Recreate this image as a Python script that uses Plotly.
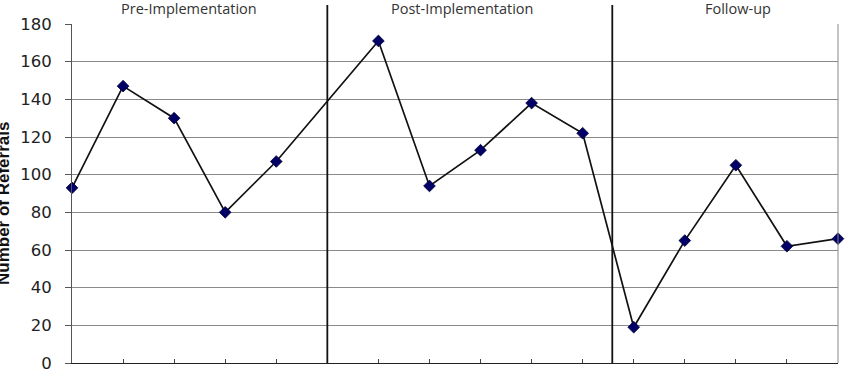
import plotly.graph_objects as go

# Data
x_pos = [0, 1, 2, 3, 4, 6, 7, 8, 9, 10, 11, 12, 13, 14, 15]
referrals = [93, 147, 130, 80, 107, 171, 94, 113, 138, 122, 19, 65, 105, 62, 66]
y_ticks = [0, 20, 40, 60, 80, 100, 120, 140, 160, 180]
phase_labels = ["Pre-Implementation", "Post-Implementation", "Follow-up"]
phase_label_x = [2.29, 7.64, 13.04]
phase_dividers = [5.0, 10.58]

fig = go.Figure()
fig.add_trace(go.Scatter(
    x=x_pos, y=referrals, mode="lines+markers",
    line=dict(color="#111111", width=1.7),
    marker=dict(symbol="diamond", size=9, color="#000066",
                line=dict(color="#000033", width=0.8)),
    showlegend=False, cliponaxis=False,
))

for xd in phase_dividers:
    fig.add_shape(type="line", xref="x", yref="paper", x0=xd, x1=xd,
                  y0=0, y1=1.056, line=dict(color="#111111", width=1.8),
                  layer="above")

for lbl, lx in zip(phase_labels, phase_label_x):
    fig.add_annotation(text=lbl, x=lx, xref="x", y=1.046, yref="paper",
                       showarrow=False, xanchor="center", yanchor="middle",
                       font=dict(family="Open Sans, sans-serif", size=14.5, color="#333333"))

fig.add_annotation(text="<b>Number of Referrals</b>", textangle=-90,
                   x=0, xref="paper", xshift=-69, xanchor="center",
                   y=0.469, yref="paper", yanchor="middle", showarrow=False,
                   font=dict(family="Liberation Sans, Arial, sans-serif", size=17, color="#111111"))

fig.update_xaxes(range=[0, 15], showgrid=False, zeroline=False, automargin=False,
                 showline=True, linecolor="#222222", linewidth=1.2,
                 tickmode="linear", tick0=0, dtick=1, ticks="inside",
                 ticklen=4, tickcolor="#444444", showticklabels=False,
                 mirror=False)
fig.update_yaxes(range=[0, 180], tickvals=y_ticks, showgrid=True, automargin=False,
                 gridcolor="#8a8a8a", gridwidth=1, zeroline=False,
                 showline=True, linecolor="#555555", linewidth=1,
                 ticks="outside", ticklen=6, tickcolor="#555555",
                 ticklabelstandoff=10,
                 tickfont=dict(family="DejaVu Sans, sans-serif", size=16.5, color="#222222"))

# right border
fig.add_shape(type="line", xref="paper", yref="paper", x0=1, x1=1, y0=0, y1=1,
              line=dict(color="#8a8a8a", width=1))

fig.update_layout(width=851, height=373,
                  margin=dict(l=72, r=13, t=24, b=10),
                  paper_bgcolor="white", plot_bgcolor="white")

fig.write_html("out.html")
